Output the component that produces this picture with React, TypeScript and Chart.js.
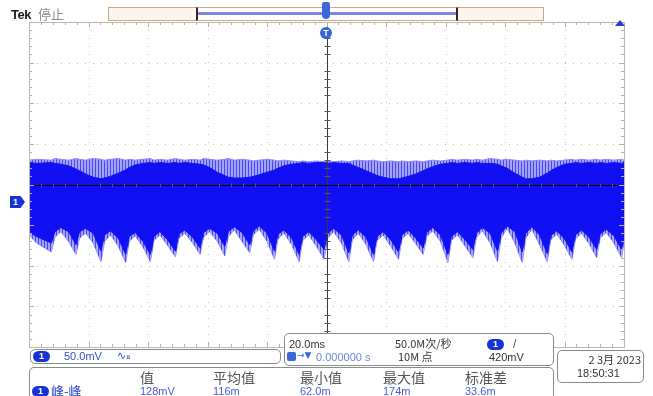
import React, { useEffect, useRef } from "react";
import { Chart, registerables } from "chart.js";

Chart.register(...registerables);

// Time axis: 20 ms/div, 10 divisions, trigger at center
const TIME_MS = [
  -100, -97.5,
  -92.5, -91.3, -89.3, -86.7,
  -84.2, -83.0, -81.0, -78.4,
  -75.8, -74.6, -72.6, -70.0,
  -67.5, -66.3, -64.3, -61.7,
  -59.2, -58.0, -56.0, -53.4,
  -50.8, -49.6, -47.6, -45.0,
  -42.5, -41.3, -39.3, -36.7,
  -34.2, -33.0, -31.0, -28.4,
  -25.8, -24.6, -22.6, -20.0,
  -17.5, -16.3, -14.3, -11.7,
  -9.2, -8.0, -6.0, -3.4,
  -0.8, 0.4, 2.4, 5.0,
  7.5, 8.7, 10.7, 13.3,
  15.8, 17.0, 19.0, 21.6,
  24.2, 25.4, 27.4, 30.0,
  32.5, 33.7, 35.7, 38.3,
  40.8, 42.0, 44.0, 46.6,
  49.2, 50.4, 52.4, 55.0,
  57.5, 58.7, 60.7, 63.3,
  65.8, 67.0, 69.0, 71.6,
  74.2, 75.4, 77.4, 80.0,
  82.5, 83.7, 85.7, 88.3,
  90.8, 92.0, 94.0, 96.6,
  99.2, 100,
];

// Envelope of the sparse (light) ripple spikes, mV relative to channel ground
const OUTER_TOP_MV = [
  50, 51, 50, 52, 51, 50, 52, 51, 50, 52, 51, 50, 51, 52, 50, 51, 50, 51, 52, 50,
  51, 50, 52, 51, 50, 51, 50, 52, 51, 50, 51, 52, 50, 51, 50, 49, 50, 51, 50, 49,
  50, 49, 48, 49, 48, 49, 48, 49, 48, 49, 48, 49, 50, 49, 50, 49, 48, 49, 48, 49,
  48, 49, 48, 49, 50, 49, 50, 51, 50, 51, 50, 51, 50, 52, 51, 50, 51, 50, 49, 50,
  49, 50, 49, 50, 49, 50, 51, 50, 51, 50, 51, 50, 51, 50, 51, 50,
];
const OUTER_BOTTOM_MV = [
  -42, -52, -63, -45, -38, -50, -66, -46, -40, -52, -75, -50, -42, -56, -76, -50, -43, -57, -75, -49,
  -42, -55, -69, -46, -40, -52, -66, -45, -38, -50, -68, -44, -36, -50, -64, -42, -35, -50, -72, -47,
  -40, -54, -75, -49, -42, -56, -72, -46, -38, -52, -75, -48, -40, -54, -75, -49, -42, -56, -72, -47,
  -40, -53, -66, -44, -37, -50, -76, -49, -42, -56, -70, -45, -37, -52, -75, -46, -34, -52, -76, -46,
  -35, -54, -75, -48, -41, -55, -72, -47, -40, -53, -70, -46, -39, -52, -70, -50,
];
// Envelope of the dense ripple band
const DENSE_TOP_MV = [
  47, 46, 47, 46, 45, 43, 39, 37, 33, 29, 27, 28, 30, 34, 38, 41, 44, 46, 47, 46,
  47, 46, 47, 46, 47, 46, 45, 44, 41, 35, 31, 29, 28, 28, 29, 30, 32, 35, 38, 40,
  43, 45, 46, 47, 46, 47, 47, 46, 47, 46, 46, 44, 41, 37, 33, 31, 29, 27, 27, 28,
  30, 33, 37, 39, 42, 45, 46, 47, 46, 47, 46, 47, 46, 46, 45, 43, 40, 34, 29, 27,
  27, 29, 34, 37, 41, 45, 46, 47, 46, 47, 46, 47, 46, 47, 46, 47,
];
const DENSE_BOTTOM_MV = [
  -38, -44, -52, -38, -33, -38, -54, -38, -34, -40, -62, -42, -37, -46, -66, -44, -39, -50, -66, -44,
  -38, -48, -62, -41, -36, -45, -58, -39, -34, -40, -56, -38, -32, -39, -54, -37, -31, -40, -62, -41,
  -36, -46, -66, -44, -38, -48, -60, -40, -34, -42, -64, -42, -36, -45, -66, -44, -38, -48, -63, -42,
  -36, -46, -58, -39, -33, -42, -66, -44, -38, -48, -60, -40, -33, -40, -62, -40, -31, -38, -63, -40,
  -32, -42, -65, -43, -37, -47, -63, -42, -36, -45, -60, -41, -35, -43, -60, -44,
];

// Graticule: 10 x 8 divisions (20 ms/div, 50 mV/div, ground 3.6 div above bottom)
const X_DIV_MS = [-100, -80, -60, -40, -20, 0, 20, 40, 60, 80, 100];
const Y_DIV_MV = [-180, -130, -80, -30, 20, 70, 120, 170, 220];
const X_CENTER_MS = 0;
const Y_CENTER_MV = 20;

// Readouts
const MEAS_HEADERS = ["值", "平均值", "最小值", "最大值", "标准差"];
const MEAS_VALUES = ["128mV", "116m", "62.0m", "174m", "33.6m"];
const MEAS_X = [140, 213, 300, 383, 465];

const DENSE = "#1010f2";
const LIGHT = "#8a8af8";

const toPts = (vals: number[]) => TIME_MS.map((t, i) => ({ x: t, y: vals[i] }));

const graticule = {
  id: "graticule",
  beforeDatasetsDraw(chart: any) {
    const { ctx, chartArea: a, scales } = chart;
    const x = scales.x;
    const y = scales.y;
    ctx.save();
    ctx.strokeStyle = "#bcbcbc";
    ctx.lineWidth = 1;
    ctx.setLineDash([1, 7]);
    for (const v of Y_DIV_MV.slice(1, -1)) {
      const py = Math.round(y.getPixelForValue(v)) + 0.5;
      ctx.beginPath();
      ctx.moveTo(a.left, py);
      ctx.lineTo(a.right, py);
      ctx.stroke();
    }
    for (const v of X_DIV_MS.slice(1, -1)) {
      const px = Math.round(x.getPixelForValue(v)) + 0.5;
      ctx.beginPath();
      ctx.moveTo(px, a.top);
      ctx.lineTo(px, a.bottom);
      ctx.stroke();
    }
    ctx.restore();
  },
  afterDatasetsDraw(chart: any) {
    const { ctx, chartArea: a, scales } = chart;
    const x = scales.x;
    const y = scales.y;
    ctx.save();
    const cx = Math.round(x.getPixelForValue(X_CENTER_MS)) + 0.5;
    const cy = Math.round(y.getPixelForValue(Y_CENTER_MV)) + 0.5;
    // center crosshair
    ctx.strokeStyle = "#3a3a3a";
    ctx.lineWidth = 1;
    ctx.beginPath();
    ctx.moveTo(cx, a.top);
    ctx.lineTo(cx, a.bottom);
    ctx.stroke();
    ctx.strokeStyle = "#000";
    ctx.beginPath();
    ctx.moveTo(a.left, cy);
    ctx.lineTo(a.right, cy);
    ctx.stroke();
    // minor ticks on crosshair and border
    ctx.strokeStyle = "#555";
    for (let i = 0; i < X_DIV_MS.length - 1; i++) {
      for (let k = 1; k < 5; k++) {
        const v = X_DIV_MS[i] + ((X_DIV_MS[i + 1] - X_DIV_MS[i]) * k) / 5;
        const px = Math.round(x.getPixelForValue(v)) + 0.5;
        ctx.beginPath();
        ctx.moveTo(px, cy - 2);
        ctx.lineTo(px, cy + 2);
        ctx.stroke();
      }
    }
    for (let i = 0; i < Y_DIV_MV.length - 1; i++) {
      for (let k = 1; k < 5; k++) {
        const v = Y_DIV_MV[i] + ((Y_DIV_MV[i + 1] - Y_DIV_MV[i]) * k) / 5;
        const py = Math.round(y.getPixelForValue(v)) + 0.5;
        ctx.beginPath();
        ctx.moveTo(cx - 3, py);
        ctx.lineTo(cx + 3, py);
        ctx.stroke();
      }
    }
    ctx.strokeStyle = "#b9aea4";
    for (let i = 0; i < X_DIV_MS.length - 1; i++) {
      for (let k = 0; k < 5; k++) {
        const v = X_DIV_MS[i] + ((X_DIV_MS[i + 1] - X_DIV_MS[i]) * k) / 5;
        const px = Math.round(x.getPixelForValue(v)) + 0.5;
        const len = k === 0 ? 5 : 3;
        ctx.beginPath();
        ctx.moveTo(px, a.top);
        ctx.lineTo(px, a.top + len);
        ctx.moveTo(px, a.bottom);
        ctx.lineTo(px, a.bottom - len);
        ctx.stroke();
      }
    }
    for (let i = 0; i < Y_DIV_MV.length - 1; i++) {
      for (let k = 0; k < 5; k++) {
        const v = Y_DIV_MV[i] + ((Y_DIV_MV[i + 1] - Y_DIV_MV[i]) * k) / 5;
        const py = Math.round(y.getPixelForValue(v)) + 0.5;
        const len = k === 0 ? 5 : 3;
        ctx.beginPath();
        ctx.moveTo(a.left, py);
        ctx.lineTo(a.left + len, py);
        ctx.moveTo(a.right, py);
        ctx.lineTo(a.right - len, py);
        ctx.stroke();
      }
    }
    ctx.strokeStyle = "#c2b6aa";
    ctx.strokeRect(Math.round(a.left) + 0.5, Math.round(a.top) + 0.5, Math.round(a.right - a.left), Math.round(a.bottom - a.top));
    ctx.restore();
  },
};

const LATIN = '"Liberation Sans", Arial, sans-serif';
const CJK = '"Noto Sans CJK SC", "Liberation Sans", sans-serif';

const abs = (left: number, top: number, extra: React.CSSProperties = {}): React.CSSProperties => ({
  position: "absolute",
  left,
  top,
  whiteSpace: "nowrap",
  lineHeight: 1,
  ...extra,
});

const Pill = ({ left, top }: { left: number; top: number }) => (
  <div
    style={abs(left, top, {
      width: 17,
      height: 11,
      borderRadius: 6,
      background: "#1633d6",
      color: "#fff",
      fontFamily: LATIN,
      fontWeight: 700,
      fontSize: 9,
      lineHeight: "11px",
      textAlign: "center",
    })}
  >
    1
  </div>
);

const box = (left: number, top: number, width: number, height: number): React.CSSProperties => ({
  position: "absolute",
  left,
  top,
  width,
  height,
  border: "1px solid #8a8a8a",
  borderRadius: 5,
  background: "#fff",
  boxSizing: "border-box",
});

export default function App() {
  const ref = useRef<HTMLCanvasElement | null>(null);

  useEffect(() => {
    const canvas = ref.current;
    if (!canvas) return;
    const pc = document.createElement("canvas");
    pc.width = 3;
    pc.height = 4;
    const pctx = pc.getContext("2d")!;
    pctx.fillStyle = "#a4a4ff";
    pctx.fillRect(0, 0, 3, 4);
    pctx.fillStyle = "#4646f4";
    pctx.fillRect(2, 0, 1, 4);
    const pattern = canvas.getContext("2d")!.createPattern(pc, "repeat") || LIGHT;

    const chart = new Chart(canvas, {
      type: "line",
      data: {
        datasets: [
          { data: toPts(DENSE_TOP_MV), fill: "+1", backgroundColor: DENSE, borderColor: DENSE, borderWidth: 1, pointRadius: 0, tension: 0 },
          { data: toPts(DENSE_BOTTOM_MV), fill: false, borderColor: DENSE, borderWidth: 1, pointRadius: 0, tension: 0 },
          { data: toPts(OUTER_TOP_MV), fill: "+1", backgroundColor: pattern as any, borderColor: LIGHT, borderWidth: 1, pointRadius: 0, tension: 0 },
          { data: toPts(OUTER_BOTTOM_MV), fill: false, borderColor: LIGHT, borderWidth: 1, pointRadius: 0, tension: 0 },
        ],
      },
      options: {
        animation: false,
        responsive: false,
        maintainAspectRatio: false,
        events: [],
        layout: { padding: { left: 29, right: 29, top: 22, bottom: 49 } },
        plugins: { legend: { display: false }, tooltip: { enabled: false } },
        scales: {
          x: { type: "linear", min: -100, max: 100, display: false },
          y: { type: "linear", min: -180, max: 220, display: false },
        },
      },
      plugins: [graticule],
    });
    return () => chart.destroy();
  }, []);

  return (
    <div style={{ position: "fixed", left: 0, top: 0, width: 653, height: 396, background: "#fff", overflow: "hidden" }}>
      <canvas ref={ref} width={653} height={396} style={{ position: "absolute", left: 0, top: 0, width: 653, height: 396 }} />

      {/* header */}
      <div style={abs(11, 8, { fontFamily: LATIN, fontWeight: 700, fontSize: 13, color: "#1a1a1a", letterSpacing: -0.5 })}>Tek</div>
      <div style={abs(38, 7, { fontFamily: CJK, fontSize: 13, color: "#8a8a8a" })}>停止</div>
      <div style={{ ...abs(108, 7), width: 436, height: 14, border: "1px solid #c8a888", background: "#fdf6ee", boxSizing: "border-box" }} />
      <div style={{ ...abs(196, 7), width: 262, height: 14, borderLeft: "2px solid #2a2a2a", borderRight: "2px solid #2a2a2a", borderTop: "1px solid #c8a888", borderBottom: "1px solid #c8a888", background: "#fff", boxSizing: "border-box" }} />
      <div style={{ ...abs(198, 12), width: 258, height: 3, background: "#8282ea" }} />
      <div style={{ ...abs(322, 2), width: 8, height: 17, background: "#3a68d6", borderRadius: "2px 2px 4px 4px" }} />
      <div style={abs(320, 27, { width: 12, height: 12, borderRadius: 6, background: "#3a68d6", color: "#fff", fontFamily: LATIN, fontWeight: 700, fontSize: 9, lineHeight: "12px", textAlign: "center" })}>T</div>
      <div style={{ ...abs(615, 20), width: 0, height: 0, borderLeft: "5px solid transparent", borderRight: "5px solid transparent", borderBottom: "6px solid #1f3fd0" }} />

      {/* channel ground marker */}
      <div style={abs(10, 196, { width: 15, height: 12, background: "#1633d6", clipPath: "polygon(0 0, 70% 0, 100% 50%, 70% 100%, 0 100%)", color: "#fff", fontFamily: LATIN, fontWeight: 700, fontSize: 9, lineHeight: "12px", paddingLeft: 3, boxSizing: "border-box" })}>1</div>

      {/* channel box */}
      <div style={box(30, 349, 251, 15)} />
      <Pill left={33} top={351} />
      <div style={abs(64, 351, { fontFamily: LATIN, fontSize: 11, color: "#3550c8" })}>50.0mV</div>
      <div style={abs(117, 350, { fontFamily: '"DejaVu Sans", sans-serif', fontSize: 11, color: "#3550c8" })}>∿<span style={{ fontSize: 7 }}>ʙ</span></div>

      {/* timebase box */}
      <div style={box(284, 333, 270, 33)} />
      <div style={abs(289, 339, { fontFamily: LATIN, fontSize: 11, color: "#333" })}>20.0ms</div>
      <div style={abs(395, 338, { fontFamily: CJK, fontSize: 11, color: "#333" })}>50.0M次/秒</div>
      <Pill left={487} top={339} />
      <div style={abs(513, 338, { fontFamily: LATIN, fontSize: 12, color: "#555" })}>/</div>
      <div style={abs(287, 352, { width: 9, height: 9, background: "#3a68d6", borderRadius: 2 })} />
      <div style={abs(297, 351, { fontFamily: '"DejaVu Sans", sans-serif', fontSize: 9, color: "#3a68d6" })}>→▼</div>
      <div style={abs(316, 352, { fontFamily: LATIN, fontSize: 11, color: "#6a86d8" })}>0.000000 s</div>
      <div style={abs(398, 351, { fontFamily: CJK, fontSize: 11, color: "#333" })}>10M 点</div>
      <div style={abs(489, 352, { fontFamily: LATIN, fontSize: 11, color: "#333" })}>420mV</div>

      {/* date box */}
      <div style={box(557, 350, 87, 33)} />
      <div style={abs(558, 354, { width: 83, textAlign: "right", fontFamily: CJK, fontSize: 11, color: "#333" })}>2 3月 2023</div>
      <div style={abs(577, 368, { fontFamily: LATIN, fontSize: 11, color: "#333" })}>18:50:31</div>

      {/* measurement box */}
      <div style={box(29, 367, 525, 40)} />
      {MEAS_HEADERS.map((h, i) => (
        <div key={h} style={abs(MEAS_X[i], 370, { fontFamily: CJK, fontSize: 14, color: "#555" })}>{h}</div>
      ))}
      <Pill left={32} top={386} />
      <div style={abs(51, 384, { fontFamily: CJK, fontSize: 13, color: "#2a44c8" })}>峰-峰</div>
      {MEAS_VALUES.map((v, i) => (
        <div key={v} style={abs(MEAS_X[i], 386, { fontFamily: LATIN, fontSize: 11, color: "#4a5ad8" })}>{v}</div>
      ))}
    </div>
  );
}
